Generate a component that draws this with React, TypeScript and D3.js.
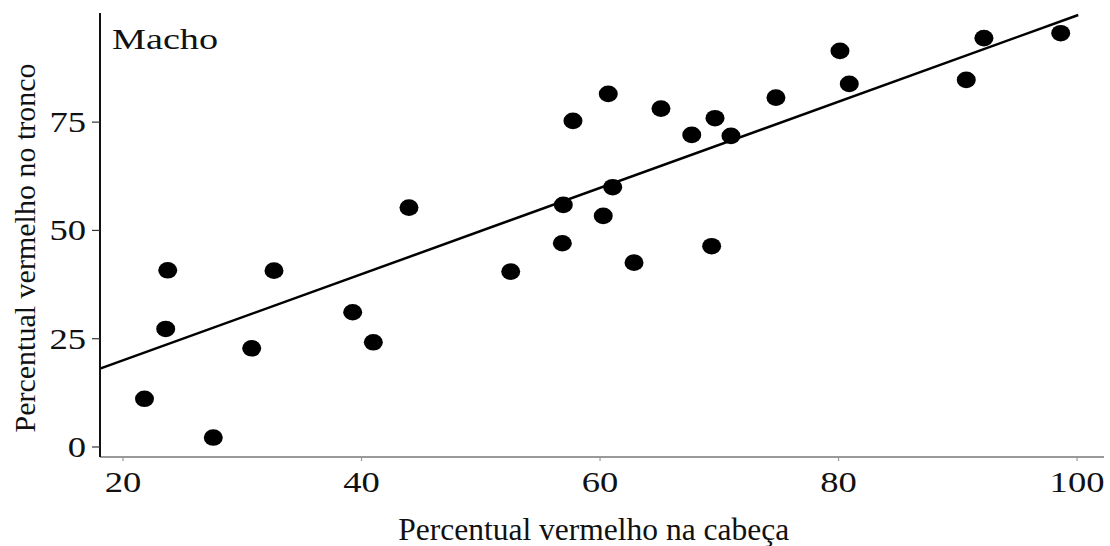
import React from 'react';
import * as d3 from 'd3';

// Percentual vermelho na cabeça (x) vs no tronco (y), machos
const cabeca = [
  21.8, 23.75, 23.58, 27.57, 30.79, 32.66, 39.26, 40.99, 43.98, 52.51,
  56.84, 56.92, 57.73, 60.27, 60.69, 61.06, 62.85, 65.11, 67.69, 69.36,
  69.64, 70.98, 74.75, 80.12, 80.9, 90.71, 92.19, 98.63,
];
const tronco = [
  11.13, 40.79, 27.25, 2.19, 22.79, 40.72, 31.11, 24.18, 55.27, 40.49,
  47.04, 55.89, 75.29, 53.35, 81.52, 59.98, 42.56, 78.13, 72.06, 46.35,
  75.91, 71.82, 80.67, 91.45, 83.83, 84.76, 94.39, 95.54,
];

// fitted line
const fitIntercept = 0.09;
const fitSlope = 0.9955;
const fitRange = [18.07, 100.1];

const xTicks = [20, 40, 60, 80, 100];
const yTicks = [0, 25, 50, 75];

const xTitle = 'Percentual vermelho na cabeça';
const yTitle = 'Percentual vermelho no tronco';
const panelLabel = 'Macho';

const W = 1110;
const H = 546;
const font = '"Liberation Serif", "Times New Roman", serif';

export default function App() {
  const x = d3.scaleLinear().domain([18.07, 102.26]).range([100, 1104]);
  const y = d3.scaleLinear().domain([-2.24, 100.2]).range([456.7, 13]);

  const fitLine = d3
    .line<number>()
    .x((d) => x(d))
    .y((d) => y(fitIntercept + fitSlope * d));

  const points = cabeca.map((c, i) => ({ c, t: tronco[i] }));

  return (
    <svg
      width={W}
      height={H}
      style={{ position: 'absolute', left: 0, top: 0, background: '#fff' }}
      fontFamily={font}
    >
      <rect width={W} height={H} fill="#fff" />

      {/* regression line */}
      <path d={fitLine(fitRange) || ''} fill="none" stroke="#000" strokeWidth={2.5} />

      {/* points */}
      {points.map((p, i) => (
        <ellipse key={i} cx={x(p.c)} cy={y(p.t)} rx={9.5} ry={8.3} fill="#000" />
      ))}

      {/* x axis */}
      <line x1={100} x2={1104} y1={457} y2={457} stroke="#777" strokeWidth={1.6} />
      {xTicks.map((t) => (
        <g key={t}>
          <line x1={x(t)} x2={x(t)} y1={457} y2={461} stroke="#999" strokeWidth={1.2} />
          <text
            transform={`translate(${x(t)},491.5) scale(1.2,1)`}
            textAnchor="middle"
            fontSize={30.5}
            fill="#111"
          >
            {t}
          </text>
        </g>
      ))}

      {/* y axis */}
      <line x1={100} x2={100} y1={13} y2={457} stroke="#111" strokeWidth={2} />
      {yTicks.map((t) => (
        <g key={t}>
          <line x1={92} x2={100} y1={y(t)} y2={y(t)} stroke="#333" strokeWidth={1.2} />
          <text
            transform={`translate(86,${y(t) + 10}) scale(1.2,1)`}
            textAnchor="end"
            fontSize={30.5}
            fill="#111"
          >
            {t}
          </text>
        </g>
      ))}

      {/* titles */}
      <text x={593.7} y={539.5} textAnchor="middle" fontSize={31.5} fill="#111">
        {xTitle}
      </text>
      <text
        transform="translate(35,248) rotate(-90)"
        textAnchor="middle"
        fontSize={30}
        fill="#111"
      >
        {yTitle}
      </text>
      <text
        x={112}
        y={49}
        fontSize={30}
        fill="#111"
        textLength={106}
        lengthAdjust="spacingAndGlyphs"
      >
        {panelLabel}
      </text>
    </svg>
  );
}
